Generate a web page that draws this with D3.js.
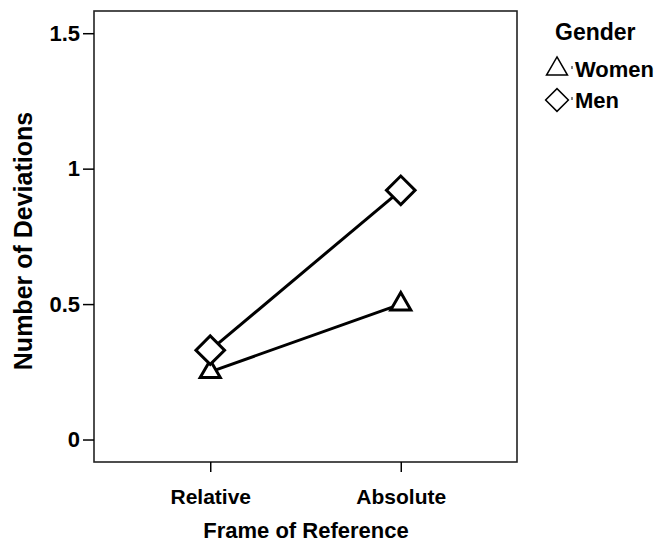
<!DOCTYPE html>
<html>
<head>
<meta charset="utf-8">
<script src="https://cdn.jsdelivr.net/npm/d3@7"></script>
<style>
  body { margin: 0; background: #fff; }
  text { font-family: "Liberation Sans", Arial, sans-serif; font-weight: bold; fill: #000; }
</style>
</head>
<body>
<div id="chart"></div>
<script>
// Our canvas
const width = 660,
      height = 545

// data
const frames = ['Relative', 'Absolute']
const genders = ['Women', 'Men']
const women = [0.25, 0.5]
const men = [0.33, 0.92]
const yTicks = [0, 0.5, 1, 1.5]

const box = { left: 94, top: 11, right: 517, bottom: 462 }

let svg = d3.select('#chart')
  .append('svg')
  .attr('width', width)
  .attr('height', height)

let xScale = d3.scalePoint()
  .domain(frames)
  .range([box.left, box.right])
  .padding(0.61)

let yScale = d3.scaleLinear()
  .domain([-0.083, 1.582])
  .range([box.bottom, box.top])

// frame
svg.append('rect')
  .attr('x', box.left)
  .attr('y', box.top)
  .attr('width', box.right - box.left)
  .attr('height', box.bottom - box.top)
  .attr('fill', 'none')
  .attr('stroke', '#222')
  .attr('stroke-width', 1.6)

// y axis
let yAxis = svg.append('g')
  .attr('transform', `translate(${ box.left }, 0)`)
  .call(d3.axisLeft(yScale)
    .tickValues(yTicks)
    .tickFormat(d => d3.format('')(d))
    .tickSize(11)
    .tickPadding(3))
yAxis.select('.domain').remove()
yAxis.selectAll('line').attr('stroke', '#000').attr('stroke-width', 1.5)
yAxis.selectAll('text').attr('font-size', 22).attr('fill', '#000')

// x axis
let xAxis = svg.append('g')
  .attr('transform', `translate(0, ${ box.bottom })`)
  .call(d3.axisBottom(xScale)
    .tickSize(10)
    .tickPadding(17))
xAxis.select('.domain').remove()
xAxis.selectAll('line').attr('stroke', '#000').attr('stroke-width', 1.5)
xAxis.selectAll('text').attr('font-size', 21).attr('fill', '#000')

// titles
svg.append('text')
  .attr('x', 306)
  .attr('y', 538)
  .attr('text-anchor', 'middle')
  .attr('font-size', 22)
  .text('Frame of Reference')

svg.append('text')
  .attr('transform', `translate(32, 241) rotate(-90)`)
  .attr('text-anchor', 'middle')
  .attr('font-size', 25)
  .text('Number of Deviations')

// lines
let series = [
  { name: genders[0], values: women, symbol: d3.symbolTriangle, size: 175, rotate: 0 },
  { name: genders[1], values: men, symbol: d3.symbolSquare, size: 410, rotate: 45 }
]

let line = d3.line()
  .x((d, i) => xScale(frames[i]))
  .y(d => yScale(d))

series.forEach(s => {
  svg.append('path')
    .datum(s.values)
    .attr('d', line)
    .attr('fill', 'none')
    .attr('stroke', '#000')
    .attr('stroke-width', 3)
})

series.forEach(s => {
  svg.selectAll(null)
    .data(s.values)
    .enter()
    .append('path')
    .attr('d', d3.symbol().type(s.symbol).size(s.size))
    .attr('transform', (d, i) => `translate(${ xScale(frames[i]) }, ${ yScale(d) }) rotate(${ s.rotate })`)
    .attr('fill', '#fff')
    .attr('stroke', '#000')
    .attr('stroke-width', 3)
})

// legend
let legend = svg.append('g')

legend.append('text')
  .attr('x', 555)
  .attr('y', 40)
  .attr('font-size', 23)
  .text('Gender')

let legendRows = [
  { y: 69, symbol: d3.symbolTriangle, size: 190, rotate: 0 },
  { y: 100, symbol: d3.symbolSquare, size: 260, rotate: 45 }
]

legendRows.forEach((r, i) => {
  legend.append('path')
    .attr('d', d3.symbol().type(r.symbol).size(r.size))
    .attr('transform', `translate(557, ${ r.y }) rotate(${ r.rotate })`)
    .attr('fill', '#fff')
    .attr('stroke', '#000')
    .attr('stroke-width', 1.5)
  legend.append('line')
    .attr('x1', 572).attr('x2', 572)
    .attr('y1', r.y - 3).attr('y2', r.y)
    .attr('stroke', '#000')
    .attr('stroke-width', 1)
  legend.append('text')
    .attr('x', 575)
    .attr('y', r.y + 7.5)
    .attr('font-size', 22)
    .text(genders[i])
})
</script>
</body>
</html>
